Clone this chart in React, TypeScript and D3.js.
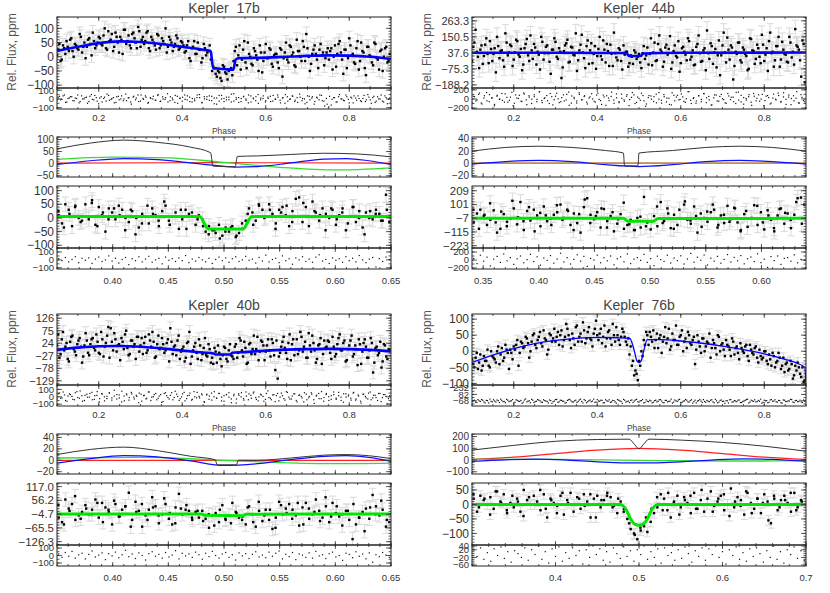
import { useEffect, useRef } from 'react';
import * as d3 from 'd3';

type Node = [number, number];

// ---------- Kepler 17b ----------
const k17Flux = [
  25, -15, 40, 10, 35, 60, 20, 45, 30, 80, 15, 50, 35, 65, 5, 55, 40, 70,
  45, 75, 30, 90, 60, 20, 85, 50, 70, 10, 95, 55, 40, 80, 65, 30, 90,
  60, 45, 85, 30, 70, 50, 25, 75, 40, 55, 100, 35, 60, 20, 45, 65, 30, 50,
  15, 40, -5, 30, 55, 10, 25, -20, 45, 5, 20, -10,
  -35, -60, -50, -75, -30, -55, -80, -45, -65,
  20, -30, 40, -10, 55, -40, 10, -25, 30, 5, -50, 15, -15, 45, -5, 25, -35, 10,
  -20, 30, -70, 15, -10, 40, 5, -30, 60, 20, -15, 35, 80, 0, -25, 25, 10, -40, 45, 15, -5, 30,
  20, -45, 40, 10, 55, -10, 25, -40, 65, 5, -20, 30, -45, 50, 15, -65, 35, 0, -30, 45, -10, 20, -50, 30, -20, 10,
];
const k17Flux2 = [
  5, 45, -10, 30, 55, 20, 65, 0, 40, 25, 70, 35, -5, 60, 45, 85, 30, 50,
  65, 40, 100, 25, 55, 80, 35, 70, 15, 60, 95, 45, 75, 30, 85, 50, 105,
  35, 70, 55, 90, 20, 60, 40, 80, 30, 65, 45, 15, 70, 50, 35, 75, 25, 55,
  40, 20, 55, -15, 35, 10, 50, 25, -5, 30, 15, 40,
  -50, -40, -70, -55, -85, -35, -60, -50, -40,
  -15, 35, 5, -45, 25, -20, 50, 0, -30, 20, -10, 40, -55, 15, -5, 30, -25, 5,
  10, -40, 25, -5, 50, -20, 35, 15, -35, 20, 0, 55, -15, 30, -50, 10, 40, -10, 25, 5, -30, 15,
  -10, 30, 0, -35, 45, 15, -60, 25, -5, 40, 10, -25, 55, -15, 20, -40, 35, 5, -20, 50, -5, -45, 25, 0, 35, -15,
];
const k17Resid = [
  20, -10, 35, -40, 5, 25, -20, 10, 45, -30, 0, 15, -50, 30, -5, 40, -25, 10, -35, 20, 55, -15, 5, -45, 25, -10, 35, 0,
  -20, 15, -60, 30, 10, -30, 45, -5, 20, -40, 5, 30, -15, 50, -25, 0, 15, -35, 25, -10, 40, -50, 10, 20, -5, 35, -30, 5,
  -20, 45, 15, -40, 0, 25, -15, 30, -55, 10, -25, 40, 5, -10, 20, -35, 60, -5, 15, -30, 25, 0, -45, 35, 10, -20, 50, -10,
  5, -35, 20, 30, -25, 0, 45, -15, 10, -50, 25, -5, 35, -30, 15, 55, -20, 0, -40, 30, 10, -60, 20, -10, 40, -25, 5, -90,
  -70, 15, -35, 25, 0, -15, 45, -5, 20, -45, 10, 35, -20, 5, -30, 50, -10, 15, -40, 25, 0, -25, 35, -55, 10,
];
const k17Resid2 = [
  -15, 30, -5, 45, -35, 10, 25, -20, 5, -45, 35, 0, 20, -30, 50, -10, 15, -55, 25, 5, -25, 40, -5, 15, -40, 30, 0, -20,
  55, 10, -35, 20, -10, 45, -25, 5, 35, -50, 15, 0, -15, 40, -30, 25, -5, 60, -20, 10, -40, 30, 5, -25, 45, -10, 20, -35,
  0, 15, 50, -45, 25, -5, 35, -20, 10, -60, 40, 0, -30, 20, -10, 55, -25, 15, -40, 5, 30, -15, 45, -35, 0, 25, -50, 10,
  35, -20, 5, -30, 40, -5, 20, -45, 15, 50, -25, 0, 30, -15, -40, 20, 5, -55, 35, -10, 25, -30, 10, 45, -20, -80, -60, 30,
  -5, 15, -35, 50, 0, -20, 25, -45, 10, 35, -15, 5, -30, 40, -10, 20, -50, 30, -25, 0, 45, -35, 15, -5,
];
const k17Fit: Node[] = [
  [0.1, 20], [0.15, 35], [0.2, 48], [0.25, 54], [0.3, 52], [0.35, 45], [0.4, 35], [0.45, 25], [0.468, 20],
  [0.474, -40], [0.5, -43], [0.522, -46], [0.528, -10], [0.535, -5], [0.6, -3], [0.65, 0], [0.7, 3],
  [0.75, 5], [0.8, 4], [0.85, 0], [0.9, -8],
];
const k17Total: Node[] = [
  [0.35, 61], [0.38, 85], [0.41, 97], [0.44, 88], [0.47, 68], [0.488, 45], [0.49, -10], [0.5, -12],
  [0.51, -13], [0.512, 30], [0.53, 32], [0.56, 38], [0.59, 43], [0.62, 40], [0.65, 28],
];
const k17Ellip: Node[] = [
  [0.35, -3], [0.38, 12], [0.41, 21], [0.44, 17], [0.47, 3], [0.5, -11], [0.51, -14], [0.53, -12],
  [0.56, 3], [0.59, 19], [0.61, 21], [0.63, 12], [0.65, -3],
];
const k17Beam: Node[] = [[0.35, 18], [0.4, 27], [0.45, 24], [0.5, 5], [0.55, -15], [0.6, -26], [0.65, -17]];
const k17Refl: Node[] = [[0.35, 2], [0.5, 4], [0.65, 2]];
const k17ZoomFlux = [
  10, -20, 50, 30, -30, 45, 0, -10, 50, -5, 65, -25, 40, 10, -50, 35, 20, -5, 45, 30, 0, -15, 25, -60, -35, 15, 5, -20,
  35, 10, -30, 25, 45, -10, 5, 20, -40, -5, 30, 15, 5, -25, 10,
  -5, -50, -30, -45, -55, -25, -65, -35, -50, -30, -70, -55, -40, -10,
  35, 20, -10, 45, 30, 5, 50, 15, -20, 30, 40, 10, -30, 25, 70, 75, -15, 40, 5, 60, 20, -10, 35, 15, 0, 30, -25, 10,
  35, -45, 5, 40, -15, 25, -35, 20, 0, -5, 30, 15, -10, 85, -15,
];
const k17ZoomFlux2 = [
  25, -35, 15, 40, -15, 5, 55, -30, 20, -5, 35, 10, -45, 30, 0, -20, 45, 15, -10, 60, -25, 5, 30, -40, 20, -5,
  -30, -60, -45, -75, -50, -35, -65, -20,
  15, -25, 50, 0, 30, -40, 20, 45, -15, 5, 55, -30, 25, 10, -45, 35, -5, 20, -20, 40, 0, -60, 25, 15, -10, 30,
];
const k17ZoomResid = [
  15, -10, 30, -25, 5, 40, -35, 20, -5, 25, -45, 10, 35, -20, 0, 50, -15, 20, -40, 5, 30, -60, 15, -10, 40, -25, 10, 45,
  -30, 0, 20, -50, 35, -5, 15, -20, 25, -10, 55, -35, 10, -15, 30, 0, -25, 20, -45, 5, 35, -10, 25, -30, 15, 40, -20, 0,
  45, -5, 10, -40, 30, -15, 60, -25, 5, 20, -35, 50, -10, 15, -55, 25, 0, 40, -20, 10, -30, 35, 65, -15, 5, -45, 25, -5,
  15, -30, 40, -10, 20, -25, 55, 0, -35, 10, 30, -90, 15, -20, 35, 5,
];
const k17ZoomFit: Node[] = [[0.35, 5], [0.478, 5], [0.486, -40], [0.517, -40], [0.525, 5], [0.65, 5]];

// ---------- Kepler 44b ----------
const k44Flux = [
  80, 200, 10, 60, -40, 95, 30, 120, -20, 70, 150, 0, 55, -60, 110, 40, 85, -10, 130, 25,
  65, -45, 100, 20, 160, -5, 75, 45, -80, 115, 35, 90, -25, 60, 140, 10, 70, -140, 50, 105,
  -30, 80, 25, 175, -15, 95, 40, -70, 125, 55, -35, 85, 15, 150, -10, 60, 100, -55, 30, 180,
  5, 70, -20, 90, 45, -60, 20, -40, 40, 10, -30, 35, -5, 75, 30, -50, 110, -15, 160, 45,
  -25, 95, 65, -75, 50, 15, 120, -35, 80, 25, 140, -10, 55, -45, 100, 35, -20, 70, 195, -5,
  85, 40, -65, 125, 20, 180, -30, 60, 90, -150, 45, 110, -15, 75, 30, -85, 140, 55, -40, 95,
  10, 165, -20, 70, 120, 35, -60, 85, 150, -10, 60, 25, -30, 110, 45, 205, 80, -15, 125, -170,
];
const k44Flux2 = [
  -20, 110, 45, -70, 90, 15, 140, -35, 65, 30, -100, 85, 50, -15, 175, 20, 95, -55, 40, 120,
  10, -85, 70, 135, -20, 55, 100, -45, 25, 150, -10, 80, 35, -110, 60, 115, -5, 45, -65, 90,
  130, -25, 75, 20, -90, 55, 165, 0, 85, -40, 105, 30, -75, 65, 15, 125, -30, 50, 95, -55,
  35, -15, 60, -80, 25, 45, -35, 10, 55, -5, 30, -70, 85, 20, -45, 140, 40, -20, 100, 60,
  -60, 75, 25, 155, -30, 90, 5, -95, 70, 45, -15, 120, 10, -50, 80, 160, -25, 55, -85, 35,
  105, -40, 65, 20, -120, 90, 40, 145, -10, 75, -55, 30, 110, -30, 60, 15, -75, 135, 50, -5,
  70, -35, 95, 25, -90, 180, 45, -15, 85, -60, 115, 30, -25, 150, 5, -45, 90, 60, -130, 100,
];
const k44Resid = [
  60, -40, 100, -90, 20, 140, -60, 30, -120, 80, 0, -30, 110, -70, 40, -150, 90, 10, -50, 130, -20, 70, -100, 50, -10,
  160, -80, 25, -40, 120, -130, 60, 5, -60, 90, -20, 150, -90, 35, -45, 100, -10, 70, -110, 45, 0, -70, 125, -35, 85,
  -140, 20, 55, -25, 110, -80, 15, -50, 95, -15, 140, -100, 40, -30, 75, -160, 30, 65, -55, 105, -5, -90, 50, 20, -120,
  135, -40, 80, -10, 45, -75, 160, -30, 10, -95, 70, -60, 115, 25, -20, -130, 90, -45, 55, 5, -85, 120, -15, 40, -100,
  150, -65, 30, -25, 95, -140, 60, 15, -50, 100, -35, 75, -110, 20, -5, 130, -70, 45, -120, 85, 10, -40, 160, -90, 35, -60,
];
const k44Resid2 = [
  -80, 50, -20, 130, -110, 70, -40, 95, 15, -150, 60, -10, 120, -70, 35, -30, 145, -95, 20, 80, -55, 110, -125, 40, -5,
  90, -60, 155, -35, 10, 75, -100, 50, -15, 125, -80, 30, -45, 100, -140, 65, 5, -90, 135, -25, 55, -70, 20, 115, -50,
  85, -10, -120, 45, 70, -35, 150, -95, 25, -60, 105, -20, 60, -145, 35, 90, -75, 10, 125, -40, -110, 75, -5, 50, -85,
  140, -30, 95, -65, 15, -130, 80, 40, -20, 110, -55, 5, 160, -100, 30, -45, 70, -10, 120, -80, 55, -135, 25, 85, -50,
  100, -15, -95, 65, 35, -60, 145, -25, 80, -115, 10, 50, -70, 120, -40, 90, -5, -150, 60, 30, -90, 105, -20, 75, -55,
  135, -10, 40, -125, 70, 15, -85, 95, -35,
];
const k44Fit: Node[] = [
  [0.1, 38], [0.3, 38], [0.47, 36], [0.476, 15], [0.504, 15], [0.51, 33], [0.6, 38], [0.9, 40],
];
const k44Total: Node[] = [
  [0.34, 20], [0.37, 26], [0.4, 28], [0.43, 26], [0.46, 21], [0.476, 17], [0.477, -4], [0.489, -4],
  [0.49, 17], [0.52, 21], [0.55, 26], [0.58, 28], [0.61, 26], [0.64, 20],
];
const k44Ellip: Node[] = [
  [0.34, -1], [0.37, 3], [0.4, 5], [0.43, 3], [0.46, -2], [0.49, -5], [0.52, -2], [0.55, 3], [0.58, 5],
  [0.61, 3], [0.64, -1],
];
const k44Beam: Node[] = [[0.34, 0], [0.64, 0]];
const k44Refl: Node[] = [[0.34, 0.5], [0.64, 0.5]];
const k44ZoomFlux = [
  -40, 30, 60, 10, -60, -20, 55, -120, -90, 25, -35, -10, 70, -55, 120, -100, 50, -25, 60, 15, -70, 85, -30, -10, 20,
  40, 100, -5, 60, -60, 30, -45, -120, 80, 150, 20, -15, 40, -80, 65, -30, 10, -110, -50, 25, -90,
  -60, -20, -100, -5, -80, 160, -40, -95, 10, -70,
  120, -30, 70, -85, 20, -60, -10, 100, -20, -50, 85, -120, 30, -5, -35, 40, 60, -80, 15, -45, 90, -15, 75, -40, -100,
  25, -75, -10, 95, -60, 40, -95, 55, -20, -110, 15, 70, -50, 30, -85, 20, 150, 155, 100,
];
const k44ZoomFlux2 = [
  60, -90, 20, 110, -40, 45, -70, 130, 0, -30, 80, -110, 35, 15, -60, 95, -20, 50, -100, 25, 140, -45, 10, 70, -80, 40,
  -15, 115,
  -55, -100, 5, -70, -30,
  85, -45, 30, -90, 60, 125, -25, 10, -75, 45, 100, -60, 20, -35, 70, -110, 50, -5, 90, -40, 15, -85, 65, 35, -20, 120, -50,
];
const k44ZoomResid = [
  40, -90, 120, -30, 70, -150, 20, 90, -60, 150, -20, 60, -110, 30, 100, -70, 10, 140, -40, 80, -130, 50, -10, 110, -80,
  25, 170, -50, 60, -100, 15, 130, -30, 90, -160, 40, 0, 120, -70, 55, -20, 100, -120, 30, 80, -45, 150, -90, 20, 60,
  -10, 140, -60, 35, -140, 95, 10, -35, 120, -75, 50, -15, 105, -100, 25, 165, -55, 70, -5, 125, -125, 45, -30, 90, -80,
  15, 135, -50, 65, -20, 110, -95, 30, 75, -40, 155, -65, 20, -185, 85, -15, 100, -110, 40, 60, -30, 130, -70, 15, -5,
];
const k44ZoomFit: Node[] = [[0.34, -7], [0.476, -7], [0.48, -30], [0.503, -30], [0.507, -10], [0.64, -8]];

// ---------- Kepler 40b ----------
const k40Flux = [
  60, -20, 70, 10, -40, 30, 55, -10, 20, 45, -55, 15, 35, -25, 40, 5, 60, -15,
  70, -30, 25, 90, 85, -5, 40, 15, -45, 30, 60, 5, -20, 35, 20, 50, -10,
  45, 25, -15, 60, 10, 30, -30, 55, 5, 20, -5, 40, 85, -20, 15, 35, -40, 0,
  -50, 25, 70, -30, 10, -15, 40, -45, 5, -25, 20, -55,
  -60, -10, 15, -40, -25, 5, -50, 20, -30,
  10, -35, 45, -5, 30, -60, 20, -20, 55, 0, -45, 35, 15, -10, 40, -30, 25, -85,
  -120, -15, 30, 5, -40, 60, 20, -25, 40, -5, 50, 10, -35, 65, -10, 25, -55, 15, 45, -20, 5, 35,
  -15, 50, -30, 20, 60, -5, 35, -45, 15, 55, -20, 0, 40, -60, 25, 10, -35, 45, -95, 5, -25, 30, -50, 15, -40, -5,
];
const k40Flux2 = [
  15, -35, 40, -5, 25, -50, 50, 0, -25, 35, 10, -30, 65, -15, 20, 45, -5, 30,
  -20, 40, 10, 55, -35, 30, 65, -10, 20, 45, 0, 75, -25, 35, 10, -40, 50,
  15, -20, 50, -5, 35, 70, -35, 20, 0, 45, -15, 25, -50, 30, 10, -25, 55, -10,
  10, -35, 30, -60, -5, 25, -40, 15, -20, 45, -30, 0,
  -35, 5, -55, -15, -70, 10, -40, -5, -25,
  -40, 20, -15, 35, -30, 5, -55, 25, 0, -20, 50, -10, 30, -45, 15, -5, 40, -25,
  35, -30, 10, 50, -15, 25, -45, 40, 0, -20, 70, -10, 30, -35, 15, 55, -5, -40, 20, -60, 35, 10,
  30, -40, 10, -20, 45, -5, 25, -50, 0, 35, -30, 15, -65, 20, -10, 40, -35, -5, 25, -55, 10, -15, -75, 20, -30, 0,
];
const k40Resid = [
  40, -20, 65, -50, 10, 30, -35, 55, -10, 80, -60, 20, -5, 45, -40, 15, 70, -25, 35, -55, 5, 50, -15, 90, -30, 25, -70,
  10, 40, -45, 60, -5, 20, -80, 35, 15, -30, 65, -50, 0, 45, -20, 30, -65, 55, -10, 20, -40, 75, 5, -25, 40, -55, 15,
  50, -35, 0, 60, -15, 25, -75, 35, 10, -45, 70, -20, 45, -5, -60, 30, 55, -30, 15, -85, 40, 0, -25, 65, -40, 20, 50,
  -10, -55, 35, 5, -35, 80, -20, 25, -65, 45, -5, 15, -45, 60, -30, 10, 40, -70, 25, -15, 55, -40, 5, 35, -90, 20, -25,
  70, -10, 45, -50, 15, 30, -35, 60, -5, -75, 40, 10, -20, 50, -45, 25, -60, 35, 5, -30, 65, -15, 20, -50, 45, -10, 30, -95, 15,
];
const k40Resid2 = [
  -30, 50, -15, 25, -60, 40, 5, -40, 70, -20, 15, -50, 35, -5, 60, -35, 20, -70, 45, 0, -25, 55, -45, 10, 30, -15, 75,
  -55, 25, -10, 40, -30, 5, 50, -60, 20, -20, 65, -5, 30, -40, 10, -75, 45, 15, -30, 55, -10, 35, -50, 0, 60, -25, 20,
  -45, 70, -15, 5, 40, -65, 25, -35, 50, 0, -20, 45, -55, 15, 30, -5, -80, 35, -30, 20, 55, -45, 10, 40, -20, 65, -35,
  0, 25, -60, 45, -10, -40, 30, 15, -55, 50, -25, 70, -5, -30, 40, -50, 20, 5, -70, 35, -15, 55, -40, 10, 45, -25, -60,
  30, 0, -35, 65, -20, 15, -50, 40, -5, 25, -45, 60, -30, 10, -85, 35, -15, 50, -40, 20, -10, 45, -65, 30, 5, -25,
];
const k40Fit: Node[] = [
  [0.1, -3], [0.15, 6], [0.2, 12], [0.25, 13], [0.3, 10], [0.35, 3], [0.4, -6], [0.45, -14], [0.475, -18],
  [0.48, -22], [0.515, -22], [0.52, -15], [0.55, -12], [0.6, -6], [0.65, -2], [0.7, 0], [0.75, 1], [0.8, 0],
  [0.85, -3], [0.9, -9],
];
const k40Total: Node[] = [
  [0.35, 10], [0.38, 19], [0.41, 23], [0.44, 17], [0.47, 7], [0.492, 1], [0.494, -8], [0.511, -8], [0.513, 0],
  [0.53, 0], [0.56, 4], [0.59, 9], [0.61, 10], [0.63, 8], [0.65, 3],
];
const k40Ellip: Node[] = [
  [0.35, -5], [0.38, 3], [0.41, 8], [0.44, 6], [0.47, -1], [0.5, -9], [0.53, -6], [0.56, 1], [0.59, 7],
  [0.61, 8], [0.63, 5], [0.65, -2],
];
const k40Beam: Node[] = [[0.35, 4], [0.42, 5], [0.47, 3], [0.5, 0], [0.55, -4], [0.6, -6], [0.65, -5]];
const k40Refl: Node[] = [[0.35, 0], [0.65, 0]];
const k40ZoomFlux = [
  -20, -40, 60, 20, 40, -30, -10, 5, 35, -5, 15, 60, -20, 45, 25, 5, -50, 40, -15, 15, 30, 90, -30, 50, 10, -60, -10,
  15, 70, 30, -45, -5, 40, -25, -50, 25, 85, -5, 15, 10, -30, 5, -20,
  10, -25, -65, -10, 0, -40, 35, -30, -10, 45, 5, -20, -15, -50,
  30, -5, -60, 10, -35, 15, -30, -70, -20, 50, -5, 20, 40, 15, -10, -55, 25, 45, -25, -5, 60, 10, -20, 30, -40, 45,
  0, -15, -5, 10, -30, -115, -50, -20, 5, 20, -25, 80, 30, -10, 15, -60, -40,
];
const k40ZoomFlux2 = [
  35, -50, 10, 75, -25, 20, -5, 45, -40, 15, 55, -15, 30, -60, 5, 40, -30, 25, -10, 65, 0, -45, 20, 35, -20, 10,
  -35, -5, -55, 15, -25, -45, 0, -30,
  25, -40, 50, -10, 15, -65, 35, 0, -25, 45, -50, 20, 5, -35, 70, -15, 30, -55, 10, 40, -20, -80, 25, -5, 55, -30,
];
const k40ZoomResid = [
  20, -25, 40, -10, 55, -35, 10, 30, -45, 15, 60, -20, 5, 35, -55, 25, -5, 45, -30, 10, 70, -15, 20, -40, 35, 0, -60,
  25, 50, -10, 15, -35, 40, -20, 5, 65, -45, 30, -5, 20, -25, 45, 10, -50, 30, -15, 55, 0, -35, 20, 40, -25, 10, -60,
  35, -5, 25, -40, 15, 50, -20, 5, -30, 45, -10, 30, 60, -45, 15, -15, 40, -55, 20, 5, -25, 35, -35, 55, -5, 10, -40,
  25, 45, -20, 0, -65, 30, 15, -30, 50, -10, 20, -45, 35, -90, 10, -15, 40, 5, -25,
];
const k40ZoomFit: Node[] = [[0.35, -4], [0.48, -4], [0.483, -10], [0.517, -12], [0.52, -5], [0.65, -4]];

// ---------- Kepler 76b ----------
const k76Flux = [
  -40, -20, -55, -10, -45, -30, 5, -50, -15, -25, 0, -40, 10, -20, 5, -55, -5, 15,
  20, -45, 30, 10, 45, 25, 0, 50, 20, 35, 60, 15, 40, -10, 55, 30, 70,
  45, 20, 65, 35, 85, 50, 10, 40, 75, 30, 55, 90, 25, 60, 40, 15, 70, 50,
  55, 25, 80, 40, 65, 20, 50, 75, 35, 45, 60, 30,
  40, 15, -30, -60, -90, -45, -15, 20, 50,
  60, 30, 10, 55, 40, -5, 45, 25, 70, 15, 35, 80, 20, 50, 0, 40, 60, 25,
  35, -40, 50, 15, 40, 0, 30, 55, 10, 25, -10, 45, 20, 5, 35, 15, -15, 30, 10, -5, 25, 0,
  15, -15, 20, -5, 10, -20, 5, -25, 0, -30, -10, -45, -15, -35, -5, -55, -20, -40, -60, -30, -85, -45, -35, -70, -50, -90,
];
const k76Flux2 = [
  -25, -50, -5, -35, -60, -15, -30, -45, 0, -20, -35, 15, -10, -30, 20, -5, 5, -25,
  5, 35, -5, 25, 15, 40, -20, 30, 55, 10, 45, 25, 65, 35, 5, 50, 40,
  30, 60, 50, 15, 45, 70, 35, 55, 20, 80, 45, 30, 65, 40, 75, 35, 55, 95,
  35, 70, 45, 15, 60, 40, 85, 30, 50, 20, 70, 45,
  20, -10, -45, -75, -70, -30, 0, 35, 60,
  20, 45, 65, 35, 10, 50, 30, 75, 40, 5, 55, 35, 20, 45, 65, 30, 10, 50,
  20, 45, 5, 30, -5, 40, 15, 25, -20, 35, 10, 50, 0, 25, -15, 20, 5, 40, -10, 15, -25, 10,
  -5, 20, -30, 5, -10, 15, -35, -15, -20, 0, -40, -25, -5, -50, -30, -20, -45, -65, -35, -55, -40, -75, -60, -50, -80, -95,
];
const k76Resid = [
  -70, -100, -40, -85, -55, -120, -65, -30, -95, -75, -50, -110, -60, -85, -35, -90, -70, -125, -45, -80, -60, -100,
  -25, -75, -115, -55, -90, -40, -70, -105, -65, -85, -50, -130, -75, -35, -95, -60, -80, -110, -45, -70, -100, -55,
  -85, -30, -120, -65, -90, -50, -75, -105, -40, -80, -60, -115, -70, -45, -95, -65, -125, -55, -85, -35, -100, -75,
  -60, -110, -50, -90, -70, -40, -105, -80, -55, -120, -65, -95, -45, -75, -115, -60, -85, -30, -100, -70, -50, -110,
  -80, -40, -95, -65, -125, -55, -75, -35, -105, -85, -60, -90, -45, -115, -70, -100, -50, -80, -65, -120, -40, -95,
  -75, -55, -110, -85, -60, -30, -100, -70, -45, -90, -80, -125, -55, -65, -105, -40, -75, -95, -60, -115, -50, -85,
  -70, -35, -100, -65, -90, -55, -110, -80,
];
const k76Resid2 = [
  -85, -55, -110, -70, -40, -95, -60, -120, -80, -45, -100, -65, -30, -90, -115, -55, -75, -40, -105, -60, -85, -130,
  -50, -95, -70, -35, -110, -80, -55, -100, -45, -75, -120, -65, -90, -40, -105, -55, -80, -125, -60, -35, -95, -70,
  -110, -50, -85, -40, -115, -65, -90, -30, -100, -75, -55, -120, -45, -80, -105, -60, -95, -40, -70, -130, -55, -85,
  -110, -50, -75, -35, -100, -65, -120, -45, -90, -70, -105, -55, -80, -40, -115, -60, -95, -75, -125, -50, -85, -35,
  -110, -70, -55, -100, -45, -90, -120, -65, -75, -40, -105, -80, -55, -95, -35, -115, -60, -85, -130, -70, -45, -100,
  -65, -90, -50, -110, -75, -40, -120, -55, -85, -95, -60, -30, -105, -70, -115, -50, -80, -45, -100, -65, -125, -55,
  -90, -75, -40, -110, -60, -85, -95, -50,
];
const k76Fit: Node[] = [
  [0.1, -35], [0.15, -12], [0.2, 8], [0.25, 24], [0.3, 34], [0.35, 40], [0.4, 43], [0.45, 42], [0.478, 40],
  [0.488, 5], [0.495, -30], [0.5, -35], [0.505, -30], [0.512, 5], [0.52, 36], [0.55, 36], [0.6, 32], [0.65, 25],
  [0.7, 16], [0.75, 5], [0.8, -8], [0.85, -25], [0.88, -38], [0.897, -50], [0.9, -105],
];
const k76Total: Node[] = [
  [0.3, 85], [0.35, 125], [0.4, 160], [0.45, 175], [0.488, 178], [0.495, 130], [0.5, 95], [0.505, 130],
  [0.512, 178], [0.55, 170], [0.6, 150], [0.65, 118], [0.7, 75],
];
const k76Ellip: Node[] = [
  [0.3, -12], [0.34, 2], [0.375, 8], [0.41, 2], [0.45, -15], [0.5, -25], [0.55, -15], [0.59, 2], [0.625, 10],
  [0.66, 5], [0.7, -10],
];
const k76Beam: Node[] = [[0.3, 5], [0.4, 5], [0.5, -3], [0.6, -8], [0.65, -8], [0.7, -5]];
const k76Refl: Node[] = [
  [0.3, 5], [0.35, 25], [0.4, 55], [0.45, 85], [0.5, 100], [0.55, 85], [0.6, 55], [0.65, 25], [0.7, 5],
];
const k76ZoomFlux = [
  20, -25, 30, 15, 0, 25, -15, 45, 10, 35, -30, 5, -10, 20, -25, 50, 15, 0, 30, 10, -20, 35, -45, 20, 5, -5, 30, -35,
  15, 40, 0, 25, -15, 35, 10, -45, 20, 30, -10, 15, 40, 25, -5, -30, 10,
  -15, -50, -85, -100, -120, -90, -75, -95, -60, -30, -10,
  35, 20, -20, -45, 10, 30, -10, 25, 5, -30, 40, -15, 15, -25, 20, 45, -5, 10, 30, -20, 0, 55, -10, 25, 15, -35, 40,
  5, -15, 20, -30, 35, 10, -65, 20, -20, 15, 30, 5, -25, 40, -10, 15, 0,
];
const k76ZoomFlux2 = [
  35, -10, 20, -35, 45, 5, -20, 30, 10, -40, 25, 0, 50, -15, 15, -30, 40, 5, -25, 20, -5, 35, -45, 15, 30, -10, 20,
  -25, -65, -105, -80, -45, -15,
  25, -20, 40, 5, -35, 15, 30, -15, 50, 0, -25, 20, 35, -40, 10, -5, 45, -30, 20, 5, -55, 30, -10, 15, 40, -20, 10,
];
const k76ZoomResid = [
  20, -15, 30, -30, 5, -40, 25, -10, 35, -25, 10, -45, 15, 0, -20, 30, -35, 20, -5, 40, -30, 10, -50, 25, -15, 35, -40,
  5, -25, 30, -10, 15, -55, 20, -20, 40, -5, 25, -35, 10, -45, 30, 0, -25, 35, -15, 15, -40, 20, -5, 40, -30, 10, -20,
  25, -50, 30, -10, 5, -35, 20, -25, 35, 0, -45, 15, -15, 30, -35, 25, -5, 40, -20, 10, -55, 20, -10, 35, -30, 5, -40,
  25, -15, 30, 0, -45, 15, -20, 40, -30, 10, -50, 20, -5, 35, -25, 15, -35,
];
const k76ZoomFit: Node[] = [
  [0.3, 0], [0.478, 0], [0.485, -20], [0.49, -50], [0.495, -68], [0.5, -72], [0.505, -68], [0.51, -50],
  [0.515, -20], [0.522, 0], [0.7, 0],
];

// ---------- tick values ----------
const phaseTicks = [0.2, 0.4, 0.6, 0.8];
const zoomTicksA = [0.4, 0.45, 0.5, 0.55, 0.6, 0.65];
const zoomTicks44 = [0.35, 0.4, 0.45, 0.5, 0.55, 0.6];
const zoomTicks76 = [0.4, 0.5, 0.6, 0.7];

const planets = [
  {
    name: 'Kepler  17b', flux: k17Flux, flux2: k17Flux2, resid: k17Resid, resid2: k17Resid2,
    fit: k17Fit, fitWidth: 2.6, err: 25,
    mainDom: [-110, 140], mainTicks: [100, 50, 0, -50, -100], mainFmt: '.0f', mainFont: 12,
    residDom: [-115, 125], residTicks: [100, 0, -100],
    modelDom: [-55, 110], modelTicks: [100, 50, 0, -50],
    total: k17Total, ellip: k17Ellip, beam: k17Beam, refl: k17Refl,
    zoomX: [0.35, 0.65], zoomXTicks: zoomTicksA, zoomXFmt: '.2f',
    zoomFlux: k17ZoomFlux, zoomFlux2: k17ZoomFlux2, zoomResid: k17ZoomResid, zoomFit: k17ZoomFit, zoomErr: 27,
    zoomDom: [-110, 117], zoomTicks: [100, 50, 0, -50, -100], zoomFmt: '.0f', zoomFont: 12,
    zResidDom: [-115, 150], zResidTicks: [100, 0, -100],
  },
  {
    name: 'Kepler  44b', flux: k44Flux, flux2: k44Flux2, resid: k44Resid, resid2: k44Resid2,
    fit: k44Fit, fitWidth: 2.6, err: 63,
    mainDom: [-210, 290], mainTicks: [263.3, 150.5, 37.6, -75.3, -188.2], mainFmt: '.1f', mainFont: 11,
    residDom: [-220, 240], residTicks: [200, 0, -200],
    modelDom: [-22, 43], modelTicks: [40, 20, 0, -20],
    total: k44Total, ellip: k44Ellip, beam: k44Beam, refl: k44Refl,
    zoomX: [0.34, 0.64], zoomXTicks: zoomTicks44, zoomXFmt: '.2f',
    zoomFlux: k44ZoomFlux, zoomFlux2: k44ZoomFlux2, zoomResid: k44ZoomResid, zoomFit: k44ZoomFit, zoomErr: 60,
    zoomDom: [-241, 246], zoomTicks: [209, 101, -7, -115, -223], zoomFmt: '.0f', zoomFont: 11.5,
    zResidDom: [-225, 300], zResidTicks: [200, 0, -200],
  },
  {
    name: 'Kepler  40b', flux: k40Flux, flux2: k40Flux2, resid: k40Resid, resid2: k40Resid2,
    fit: k40Fit, fitWidth: 2.6, err: 26,
    mainDom: [-146, 143], mainTicks: [126, 75, 24, -27, -78, -129], mainFmt: '.0f', mainFont: 11,
    residDom: [-125, 160], residTicks: [100, 0, -100],
    modelDom: [-24, 46], modelTicks: [40, 20, 0, -20],
    total: k40Total, ellip: k40Ellip, beam: k40Beam, refl: k40Refl,
    zoomX: [0.35, 0.65], zoomXTicks: zoomTicksA, zoomXFmt: '.2f',
    zoomFlux: k40ZoomFlux, zoomFlux2: k40ZoomFlux2, zoomResid: k40ZoomResid, zoomFit: k40ZoomFit, zoomErr: 30,
    zoomDom: [-141, 133], zoomTicks: [117.0, 56.2, -4.7, -65.5, -126.3], zoomFmt: '.1f', zoomFont: 11.5,
    zResidDom: [-140, 140], zResidTicks: [100, 0, -100],
  },
  {
    name: 'Kepler  76b', flux: k76Flux, flux2: k76Flux2, resid: k76Resid, resid2: k76Resid2,
    fit: k76Fit, fitWidth: 1.3, err: 15,
    mainDom: [-105, 116], mainTicks: [100, 50, 0, -50, -100], mainFmt: '.0f', mainFont: 12,
    residDom: [-193, 307], residTicks: [232, 82, -68],
    modelDom: [-119, 222], modelTicks: [200, 100, 0, -100],
    total: k76Total, ellip: k76Ellip, beam: k76Beam, refl: k76Refl,
    zoomX: [0.3, 0.7], zoomXTicks: zoomTicks76, zoomXFmt: '.1f',
    zoomFlux: k76ZoomFlux, zoomFlux2: k76ZoomFlux2, zoomResid: k76ZoomResid, zoomFit: k76ZoomFit, zoomErr: 17,
    zoomDom: [-140, 74], zoomTicks: [50, 0, -50, -100], zoomFmt: '.0f', zoomFont: 12,
    zResidDom: [-65, 45], zResidTicks: [40, 20, -20, -60],
  },
];

const FONT = "'Liberation Sans', Arial, Helvetica, sans-serif";
const W = 334;
const COLS = [57, 472];
const ROWS = [0, 297];

function minorTicks(ticks: number[], dom: number[], sub: number) {
  if (ticks.length < 2) return [];
  const step = Math.abs(ticks[1] - ticks[0]) / sub;
  const lo = Math.min(dom[0], dom[1]);
  const hi = Math.max(dom[0], dom[1]);
  const out: number[] = [];
  const start = ticks[0] - Math.floor((ticks[0] - lo) / step) * step;
  for (let v = start; v <= hi + 1e-9; v += step) out.push(v);
  return out;
}

// bin centres spread evenly over the phase range; shift offsets a second set of bins
function phases(n: number, dom: number[], shift = 0.5) {
  return d3.range(n).map((i) => dom[0] + ((dom[1] - dom[0]) * (i + shift)) / n);
}

export default function App() {
  const svgRef = useRef<SVGSVGElement>(null);

  useEffect(() => {
    if (!svgRef.current) return;
    const svg = d3.select(svgRef.current);
    svg.selectAll('*').remove();
    let clipId = 0;

    const panel = (x0: number, top: number, bottom: number, xDom: number[], yDom: number[]) => {
      const x = d3.scaleLinear().domain(xDom).range([x0, x0 + W]);
      const y = d3.scaleLinear().domain(yDom).range([bottom, top]);
      const id = `clip${clipId++}`;
      svg.append('clipPath').attr('id', id)
        .append('rect').attr('x', x0).attr('y', top).attr('width', W).attr('height', bottom - top);
      const body = svg.append('g').attr('clip-path', `url(#${id})`);
      return { x, y, body, x0, top, bottom };
    };

    const axes = (
      pn: any, yTicks: number[], yFmt: string, yFont: number,
      xTicks: number[], xSub: number, xLabelY?: number, xFmt?: string
    ) => {
      const { x, y, x0, top, bottom } = pn;
      const x1 = x0 + W;
      const g = svg.append('g');
      const t = g.append('g').attr('stroke', '#333').attr('stroke-width', 0.8);
      const vt = (v: number, len: number) => {
        t.append('line').attr('x1', x(v)).attr('x2', x(v)).attr('y1', bottom).attr('y2', bottom - len);
        t.append('line').attr('x1', x(v)).attr('x2', x(v)).attr('y1', top).attr('y2', top + len);
      };
      const ht = (v: number, len: number) => {
        t.append('line').attr('y1', y(v)).attr('y2', y(v)).attr('x1', x0).attr('x2', x0 + len);
        t.append('line').attr('y1', y(v)).attr('y2', y(v)).attr('x1', x1).attr('x2', x1 - len);
      };
      minorTicks(xTicks, x.domain(), xSub).forEach((v) => vt(v, 2));
      xTicks.forEach((v) => vt(v, 4));
      const ySub = bottom - top < 30 ? 2 : 5;
      minorTicks(yTicks, y.domain(), ySub).forEach((v) => ht(v, 2.5));
      yTicks.forEach((v) => ht(v, 5));
      g.append('rect')
        .attr('x', x0).attr('y', top).attr('width', W).attr('height', bottom - top)
        .attr('fill', 'none').attr('stroke', '#222').attr('stroke-width', 1);
      const f = d3.format(yFmt);
      g.selectAll('text.yl').data(yTicks).join('text')
        .attr('x', x0 - 3).attr('y', (d) => y(d)).attr('dy', '0.35em')
        .attr('text-anchor', 'end').attr('font-size', yFont).attr('font-family', FONT).attr('fill', '#333')
        .text((d) => f(d));
      if (xLabelY !== undefined && xFmt) {
        const fx = d3.format(xFmt);
        g.selectAll('text.xl').data(xTicks).join('text')
          .attr('x', (d) => x(d)).attr('y', xLabelY)
          .attr('text-anchor', 'middle').attr('font-size', 9.5).attr('font-family', FONT).attr('fill', '#333')
          .text((d) => fx(d));
      }
    };

    const errorBars = (pn: any, vals: number[], err: number, shift: number) => {
      const ph = phases(vals.length, pn.x.domain(), shift);
      const eb = pn.body.append('g').attr('stroke', '#dadada').attr('stroke-width', 1);
      vals.forEach((v, i) => {
        const cx = pn.x(ph[i]);
        const lo = pn.y(v - err);
        const hi = pn.y(v + err);
        eb.append('line').attr('x1', cx).attr('x2', cx).attr('y1', lo).attr('y2', hi);
        eb.append('line').attr('x1', cx - 3.5).attr('x2', cx + 3.5).attr('y1', lo).attr('y2', lo);
        eb.append('line').attr('x1', cx - 3.5).attr('x2', cx + 3.5).attr('y1', hi).attr('y2', hi);
      });
    };

    const points = (pn: any, vals: number[], shift: number) => {
      const ph = phases(vals.length, pn.x.domain(), shift);
      pn.body.append('g').selectAll('rect').data(vals).join('rect')
        .attr('x', (_d: number, i: number) => pn.x(ph[i]) - 1.2).attr('y', (d: number) => pn.y(d) - 1.2)
        .attr('width', 2.4).attr('height', 2.4).attr('fill', '#000');
    };

    const dots = (pn: any, vals: number[], shift: number) => {
      const ph = phases(vals.length, pn.x.domain(), shift);
      pn.body.append('g').selectAll('rect').data(vals).join('rect')
        .attr('x', (_d: number, i: number) => pn.x(ph[i]) - 0.6).attr('y', (d: number) => pn.y(d) - 0.6)
        .attr('width', 1.2).attr('height', 1.2).attr('fill', '#111');
    };

    const curve = (pn: any, nodes: Node[], color: string, width: number) => {
      const line = d3.line<Node>().x((d) => pn.x(d[0])).y((d) => pn.y(d[1])).curve(d3.curveMonotoneX);
      pn.body.append('path').datum(nodes).attr('d', line)
        .attr('fill', 'none').attr('stroke', color).attr('stroke-width', width);
    };

    planets.forEach((p: any, k) => {
      const x0 = COLS[k % 2];
      const oy = ROWS[Math.floor(k / 2)];

      svg.append('text').attr('x', x0 + W / 2).attr('y', oy + 13).attr('text-anchor', 'middle')
        .attr('font-size', 14).attr('font-family', FONT).attr('fill', '#444')
        .style('white-space', 'pre').text(p.name);
      svg.append('text').attr('transform', `translate(${x0 - 41},${oy + 52}) rotate(-90)`)
        .attr('text-anchor', 'middle').attr('font-size', 12).attr('font-family', FONT).attr('fill', '#555')
        .text('Rel. Flux, ppm');

      // full phase curve
      const m = panel(x0, oy + 17, oy + 88, [0.1, 0.9], p.mainDom);
      errorBars(m, p.flux, p.err, 0.5);
      errorBars(m, p.flux2, p.err, 0);
      points(m, p.flux, 0.5);
      points(m, p.flux2, 0);
      curve(m, p.fit, '#0000ff', p.fitWidth);
      axes(m, p.mainTicks, p.mainFmt, p.mainFont, phaseTicks, 4);

      const r = panel(x0, oy + 88, oy + 109, [0.1, 0.9], p.residDom);
      dots(r, p.resid, 0.5);
      dots(r, p.resid2, 0);
      axes(r, p.residTicks, '.0f', 9.5, phaseTicks, 4, oy + 121, '.1f');

      svg.append('text').attr('x', x0 + W / 2).attr('y', oy + 134).attr('text-anchor', 'middle')
        .attr('font-size', 8.5).attr('font-family', FONT).attr('fill', '#444').text('Phase');

      // model components
      const md = panel(x0, oy + 137, oy + 177, p.zoomX, p.modelDom);
      curve(md, p.refl, '#ff2020', 1.2);
      curve(md, p.beam, '#33dd33', 1.3);
      curve(md, p.ellip, '#1010ff', 1.2);
      curve(md, p.total, '#333', 1);
      axes(md, p.modelTicks, '.0f', 10, p.zoomXTicks, 5);

      // zoom on occultation
      const z = panel(x0, oy + 186, oy + 248, p.zoomX, p.zoomDom);
      errorBars(z, p.zoomFlux, p.zoomErr, 0.5);
      errorBars(z, p.zoomFlux2, p.zoomErr, 0.25);
      points(z, p.zoomFlux, 0.5);
      points(z, p.zoomFlux2, 0.25);
      curve(z, p.zoomFit, '#00e600', 3);
      axes(z, p.zoomTicks, p.zoomFmt, p.zoomFont, p.zoomXTicks, 5);

      const zr = panel(x0, oy + 248, oy + 269, p.zoomX, p.zResidDom);
      dots(zr, p.zoomResid, 0.5);
      axes(zr, p.zResidTicks, '.0f', 9.5, p.zoomXTicks, 5, oy + 284, p.zoomXFmt);
    });
  }, []);

  return (
    <svg
      ref={svgRef}
      width={830}
      height={593}
      style={{ position: 'absolute', left: 0, top: 0, background: '#fff', display: 'block' }}
    />
  );
}
